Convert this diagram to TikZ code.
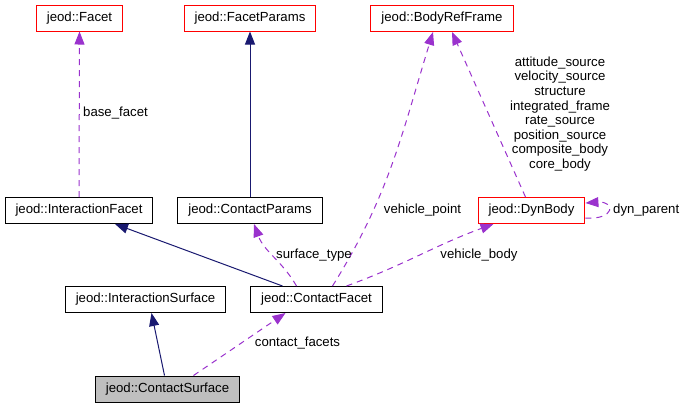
\documentclass[tikz,border=0pt]{standalone}
\usepackage{fontspec}
\setmainfont{Liberation Sans}
\usetikzlibrary{arrows.meta, positioning}
\definecolor{edgepurple}{HTML}{9A32CD}
\definecolor{edgenavy}{HTML}{191970}
\definecolor{boxgray}{HTML}{BFBFBF}
\definecolor{boxred}{HTML}{FF0000}
\tikzset{
	classbox/.style={draw=black, line width=1pt, minimum height=26pt,
		inner xsep=10.5pt, font=\fontsize{13.2}{15}\selectfont}
}
\tikzset{
	extbox/.style={classbox, draw=boxred}
}
\tikzset{
	inherit/.style={draw=edgenavy, line width=1pt, -{Triangle[length=13pt,width=10pt]}},
	member/.style={draw=edgepurple, line width=1pt, dash pattern=on 6pt off 5pt,
		-{Triangle[length=13pt,width=10pt]}},
	edgelabel/.style={font=\fontsize{13.2}{14.6}\selectfont, inner sep=0pt}
}

\begin{document}
\begin{tikzpicture}[x=1pt,y=-1pt]
      \useasboundingbox (0,0) rectangle (684,408);
      % top row
      \node[extbox] (facet) at (79.5,18) {jeod::Facet};
      \node[extbox] (fparams) at (250,18) {jeod::FacetParams};
      \node[extbox] (brf) at (442,18.5) {jeod::BodyRefFrame};
      % middle row
      \node[classbox] (ifacet) at (79,210.5) {jeod::InteractionFacet};
      \node[classbox] (cparams) at (250,210.5) {jeod::ContactParams};
      \node[extbox] (dynbody) at (531.5,210.5) {jeod::DynBody};
      % lower rows
      \node[classbox] (isurf) at (145.5,299.5) {jeod::InteractionSurface};
      \node[classbox] (cfacet) at (316.5,299.5) {jeod::ContactFacet};
      \node[classbox, fill=boxgray] (csurf) at (167.5,389) {jeod::ContactSurface};
      % inheritance
      \draw[inherit] (cparams.north) -- (fparams.south);
      \draw[inherit] ([xshift=-34pt]cfacet.north) -- ([xshift=36pt]ifacet.south);
      \draw[inherit] ([xshift=-3pt]csurf.north) -- ([xshift=6pt]isurf.south);
      % members
      \draw[member] (ifacet.north) -- (facet.south);
      \draw[member] ([xshift=-20pt]cfacet.north) to[out=120,in=-70] ([xshift=4pt]cparams.south);
      \draw[member] ([xshift=16pt]cfacet.north) to[out=58,in=-107] ([xshift=-9pt]brf.south);
      \draw[member] ([xshift=30pt]cfacet.north) to[out=20,in=-160] ([xshift=-38pt]dynbody.south);
      \draw[member] ([xshift=-6pt]dynbody.north) -- ([xshift=10pt]brf.south);
      \draw[member] ([yshift=-7.5pt]dynbody.east) .. controls +(30,2) and +(30,-2) .. ([yshift=7.5pt]dynbody.east);
      \draw[member] ([xshift=26pt]csurf.north) -- ([xshift=-31pt]cfacet.south);
      % edge labels
      \node[edgelabel, anchor=west] (lbase) at (83,113) {base\_facet};
      \node[edgelabel] (lsurf) at (314,255) {surface\_type};
      \node[edgelabel] (lvpoint) at (422.5,210) {vehicle\_point};
      \node[edgelabel] (lvbody) at (479,255) {vehicle\_body};
      \node[edgelabel, anchor=west] (ldyn) at (613,210) {dyn\_parent};
      \node[edgelabel] (lcfacets) at (297.5,343) {contact\_facets};
      \node[edgelabel, align=center] (lframes) at (560,114) {attitude\_source\\velocity\_source\\structure\\integrated\_frame\\rate\_source\\position\_source\\composite\_body\\core\_body};
    \end{tikzpicture}
\end{document}
